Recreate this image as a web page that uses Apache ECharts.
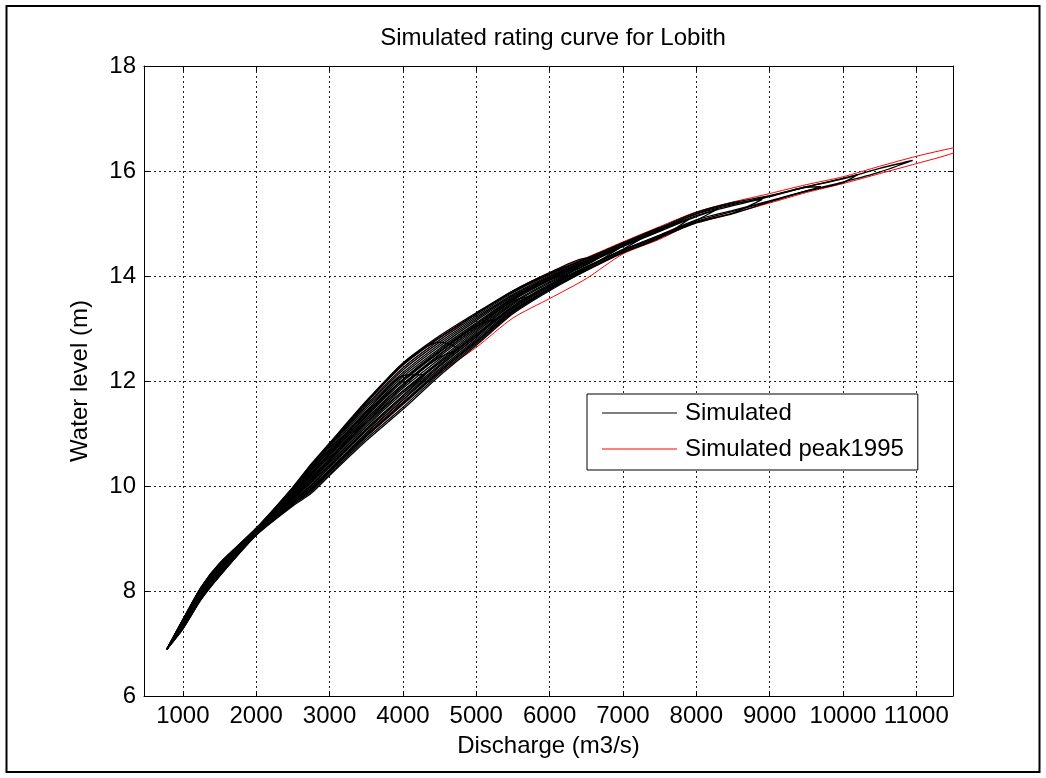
<!DOCTYPE html>
<html>
<head>
<meta charset="utf-8">
<script src="https://cdn.jsdelivr.net/npm/echarts@6/dist/echarts.min.js"></script>
<style>
html,body{margin:0;padding:0;background:#fff;}
#c{width:1046px;height:778px;}
</style>
</head>
<body>
<div id="c"></div>
<script>
// ---------- data ----------
const titleText = 'Simulated rating curve for Lobith';
const xAxisName = 'Discharge (m3/s)';
const yAxisName = 'Water level (m)';
const xTicks = [1000, 2000, 3000, 4000, 5000, 6000, 7000, 8000, 9000, 10000, 11000];
const yTicks = [6, 8, 10, 12, 14, 16, 18];

// discharge grid (m3/s) shared by every limb
const xGrid = [1000, 1250, 1500, 2000, 2500, 2750, 3000, 3500, 4000, 4500, 5000, 5500,
               6000, 6500, 7000, 7500, 8000, 8500, 9000, 9500, 10000, 10500, 11000];
const startPoint = [780, 6.89];

// simulated events: upper limb, lower limb (water levels on xGrid) and the loop tip
const simUpper = [
  [7.45, 8.07, 8.52, 9.19, 9.96, 10.39, 10.79, 11.58, 12.30, 12.82, 13.27, 13.70, 14.04, 14.33, 14.63, 14.92, 15.21, 15.40, 15.53, 15.70, 15.85, 16.05],
  [7.42, 8.03, 8.48, 9.17, 9.91, 10.31, 10.70, 11.47, 12.16, 12.70, 13.18, 13.63, 13.99, 14.29, 14.60, 14.89, 15.18, 15.36, 15.52, 15.70, 15.86],
  [7.41, 8.01, 8.46, 9.16, 9.87, 10.25, 10.63, 11.39, 12.08, 12.62, 13.11, 13.59, 13.96, 14.27, 14.58, 14.87, 15.15, 15.34, 15.51, 15.69],
  [7.43, 8.04, 8.50, 9.18, 9.93, 10.34, 10.73, 11.51, 12.21, 12.74, 13.21, 13.65, 14.01, 14.30, 14.61, 14.90, 15.19, 15.38],
  [7.39, 7.98, 8.43, 9.14, 9.84, 10.20, 10.57, 11.32, 11.99, 12.55, 13.05, 13.54, 13.92, 14.24, 14.56, 14.85, 15.13],
  [7.44, 8.06, 8.51, 9.19, 9.94, 10.36, 10.76, 11.54, 12.25, 12.78, 13.24, 13.68, 14.03, 14.32, 14.62, 14.91],
  [7.42, 8.02, 8.47, 9.17, 9.89, 10.28, 10.67, 11.43, 12.12, 12.66, 13.15, 13.61, 13.98, 14.28, 14.59],
  [7.37, 7.96, 8.41, 9.13, 9.80, 10.14, 10.51, 11.24, 11.90, 12.47, 12.99, 13.50, 13.89, 14.22],
  [7.46, 8.08, 8.53, 9.20, 9.98, 10.42, 10.82, 11.62, 12.34, 12.86, 13.30, 13.72, 14.06, 14.34],
  [7.40, 8.00, 8.45, 9.15, 9.85, 10.22, 10.60, 11.35, 12.03, 12.59, 13.08, 13.57, 13.94],
  [7.38, 7.97, 8.42, 9.14, 9.82, 10.17, 10.54, 11.28, 11.94, 12.51, 13.02, 13.52],
  [7.44, 8.06, 8.50, 9.18, 9.91, 10.31, 10.67, 11.39, 12.03, 12.55, 13.05],
  [7.39, 8.00, 8.46, 9.17, 9.91, 10.34, 10.76, 11.58, 12.34, 12.74],
  [7.41, 8.01, 8.46, 9.16, 9.87, 10.25, 10.63, 11.41, 12.10],
  [7.34, 7.92, 8.38, 9.12, 9.76, 10.11, 10.48, 11.24, 11.90, 12.50, 13.02, 13.54, 13.92],
  [7.45, 8.07, 8.52, 9.19, 9.97, 10.40, 10.80, 11.60, 12.32, 12.83, 13.28, 13.71, 14.05, 14.33, 14.63, 14.92]
];
const simLower = [
  [7.29, 7.85, 8.29, 9.07, 9.64, 9.89, 10.23, 10.90, 11.50, 12.14, 12.71, 13.30, 13.74, 14.11, 14.45, 14.73, 15.01, 15.19, 15.41, 15.62, 15.79, 15.98],
  [7.32, 7.89, 8.32, 9.09, 9.69, 9.97, 10.32, 11.01, 11.64, 12.24, 12.80, 13.37, 13.79, 14.15, 14.48, 14.76, 15.04, 15.23, 15.42, 15.61, 15.78],
  [7.33, 7.91, 8.34, 9.10, 9.73, 10.03, 10.39, 11.09, 11.72, 12.31, 12.87, 13.41, 13.82, 14.17, 14.50, 14.78, 15.07, 15.25, 15.43, 15.62],
  [7.30, 7.86, 8.30, 9.07, 9.66, 9.92, 10.26, 10.94, 11.55, 12.17, 12.74, 13.32, 13.75, 14.12, 14.46, 14.74, 15.02, 15.20],
  [7.33, 7.90, 8.33, 9.10, 9.71, 10.00, 10.36, 11.05, 11.68, 12.28, 12.84, 13.39, 13.81, 14.16, 14.49, 14.77, 15.06],
  [7.28, 7.84, 8.28, 9.06, 9.62, 9.86, 10.20, 10.86, 11.46, 12.10, 12.68, 13.28, 13.72, 14.10, 14.44, 14.72],
  [7.34, 7.92, 8.36, 9.11, 9.75, 10.06, 10.42, 11.13, 11.77, 12.35, 12.90, 13.43, 13.84, 14.18, 14.51],
  [7.31, 7.88, 8.31, 9.08, 9.67, 9.94, 10.29, 10.97, 11.59, 12.21, 12.77, 13.35, 13.77, 14.14],
  [7.36, 7.95, 8.38, 9.12, 9.78, 10.11, 10.48, 11.20, 11.86, 12.42, 12.96, 13.48, 13.87, 14.21],
  [7.31, 7.87, 8.31, 9.08, 9.65, 9.93, 10.27, 10.95, 11.57, 12.18, 12.75, 13.33, 13.76],
  [7.35, 7.94, 8.37, 9.12, 9.76, 10.08, 10.45, 11.16, 11.81, 12.38, 12.93, 13.46],
  [7.28, 7.85, 8.29, 9.07, 9.66, 9.94, 10.29, 11.01, 11.64, 12.28, 12.84],
  [7.35, 7.94, 8.38, 9.12, 9.80, 10.14, 10.51, 11.28, 11.94, 12.45],
  [7.32, 7.89, 8.32, 9.09, 9.70, 10.00, 10.36, 11.07, 11.72],
  [7.39, 7.98, 8.41, 9.14, 9.80, 10.14, 10.48, 11.20, 11.81, 12.35, 12.87, 13.41, 13.82],
  [7.40, 8.00, 8.44, 9.15, 9.85, 10.22, 10.60, 11.35, 12.03, 12.56, 13.08, 13.57, 13.94, 14.26, 14.57, 14.86]
];
const simPeakQ = [10950, 10200, 9700, 8900, 8300, 7900, 7400, 6950, 6650, 6250, 5750, 5250, 4750, 4300, 6400, 7750];
const simPeakH = [16.20, 15.93, 15.70, 15.46, 15.28, 15.08, 14.84, 14.53, 14.33, 14.02, 13.62, 13.18, 12.62, 12.12, 14.18, 15.02];

// simulated peak 1995 (red)
const redGrid = [1000, 1250, 1500, 2000, 2500, 2750, 3000, 3500, 4000, 4500, 5000, 5500,
                 6000, 6500, 7000, 7500, 8000, 8500, 9000, 9500, 10000, 10500, 11000, 11500];
const redUpper = [7.44, 8.06, 8.50, 9.19, 9.94, 10.36, 10.76, 11.54, 12.25, 12.78, 13.28, 13.72,
                  14.07, 14.35, 14.65, 14.94, 15.22, 15.41, 15.57, 15.74, 15.89, 16.09, 16.28, 16.44];
const redLower = [7.30, 7.87, 8.31, 9.08, 9.67, 9.95, 10.30, 10.98, 11.60, 12.15, 12.64, 13.20,
                  13.57, 13.95, 14.42, 14.70, 15.03, 15.20, 15.39, 15.59, 15.76, 15.95, 16.14, 16.34];
const redPeak = [11650, 16.47];

// ---------- chart ----------
const FONT = '"Liberation Sans", Arial, Helvetica, sans-serif';
const chart = echarts.init(document.getElementById('c'), null, { renderer: 'canvas' });

function loop(grid, up, low, peak) {
  const a = [startPoint];
  for (let i = 0; i < up.length; i++) a.push([grid[i], up[i]]);
  a.push(peak);
  for (let i = low.length - 1; i >= 0; i--) a.push([grid[i], low[i]]);
  a.push(startPoint);
  return a;
}

const series = [];
series.push({
  name: 'Simulated peak1995', type: 'line', symbol: 'none', silent: true, clip: true, smooth: 0.25,
  data: loop(redGrid, redUpper, redLower, redPeak),
  lineStyle: { color: '#ff0000', width: 1 }, itemStyle: { color: '#ff0000' }
});
simUpper.forEach((up, k) => {
  series.push({
    name: 'Simulated', type: 'line', symbol: 'none', silent: true, clip: true, smooth: 0.25,
    data: loop(xGrid, up, simLower[k], [simPeakQ[k], simPeakH[k]]),
    lineStyle: { color: '#000000', width: 1.3 }, itemStyle: { color: '#000000' }
  });
});

const gridLine = { show: true, lineStyle: { color: '#222', width: 1, type: [2, 3] } };
const tickStyle = { color: '#000', width: 1 };
const plainNum = v => String(v);

chart.setOption({
  animation: false,
  backgroundColor: '#fff',
  title: {
    text: titleText, left: 548, top: 21, textAlign: 'center',
    textStyle: { fontFamily: FONT, fontSize: 24, fontWeight: 'normal', color: '#000' }
  },
  grid: { left: 144, right: 93, top: 66, bottom: 82, containLabel: false },
  legend: {
    data: ['Simulated', 'Simulated peak1995'],
    orient: 'vertical', left: 587, top: 394,
    padding: [6, 14, 8, 15],
    icon: 'rect', itemWidth: 75, itemHeight: 1, itemGap: 10,
    backgroundColor: '#fff', borderColor: '#000', borderWidth: 1, borderRadius: 0,
    selectedMode: false,
    textStyle: { fontFamily: FONT, fontSize: 24, color: '#000', lineHeight: 26, padding: [0, 0, 0, 3] }
  },
  xAxis: [
    {
      type: 'value', position: 'bottom', min: 470, max: 11500,
      name: xAxisName, nameLocation: 'middle', nameGap: 38,
      nameTextStyle: { fontFamily: FONT, fontSize: 24, color: '#000' },
      axisLine: { show: true, onZero: false, lineStyle: { color: '#000', width: 1 } },
      axisTick: { show: true, inside: true, length: 5, customValues: xTicks, lineStyle: tickStyle },
      axisLabel: { customValues: xTicks, formatter: plainNum, fontFamily: FONT, fontSize: 24, color: '#000', margin: 8 },
      splitLine: gridLine
    },
    {
      type: 'value', position: 'top', min: 470, max: 11500,
      axisLine: { show: true, onZero: false, lineStyle: { color: '#000', width: 1 } },
      axisTick: { show: true, inside: true, length: 5, customValues: xTicks, lineStyle: tickStyle },
      axisLabel: { show: false }, splitLine: { show: false }
    }
  ],
  yAxis: [
    {
      type: 'value', position: 'left', min: yTicks[0], max: yTicks[yTicks.length - 1], interval: 2,
      name: yAxisName, nameLocation: 'middle', nameGap: 52, nameRotate: 90,
      nameTextStyle: { fontFamily: FONT, fontSize: 24, color: '#000' },
      axisLine: { show: true, onZero: false, lineStyle: { color: '#000', width: 1 } },
      axisTick: { show: true, inside: true, length: 5, lineStyle: tickStyle },
      axisLabel: { formatter: plainNum, fontFamily: FONT, fontSize: 24, color: '#000', margin: 8 },
      splitLine: gridLine
    },
    {
      type: 'value', position: 'right', min: yTicks[0], max: yTicks[yTicks.length - 1], interval: 2,
      axisLine: { show: true, onZero: false, lineStyle: { color: '#000', width: 1 } },
      axisTick: { show: true, inside: true, length: 5, lineStyle: tickStyle },
      axisLabel: { show: false }, splitLine: { show: false }
    }
  ],
  graphic: [{
    type: 'rect', silent: true, z: 100,
    shape: { x: 6.5, y: 6, width: 1033, height: 766 },
    style: { fill: 'none', stroke: '#000', lineWidth: 2 }
  }],
  series: series
});
</script>
</body>
</html>
